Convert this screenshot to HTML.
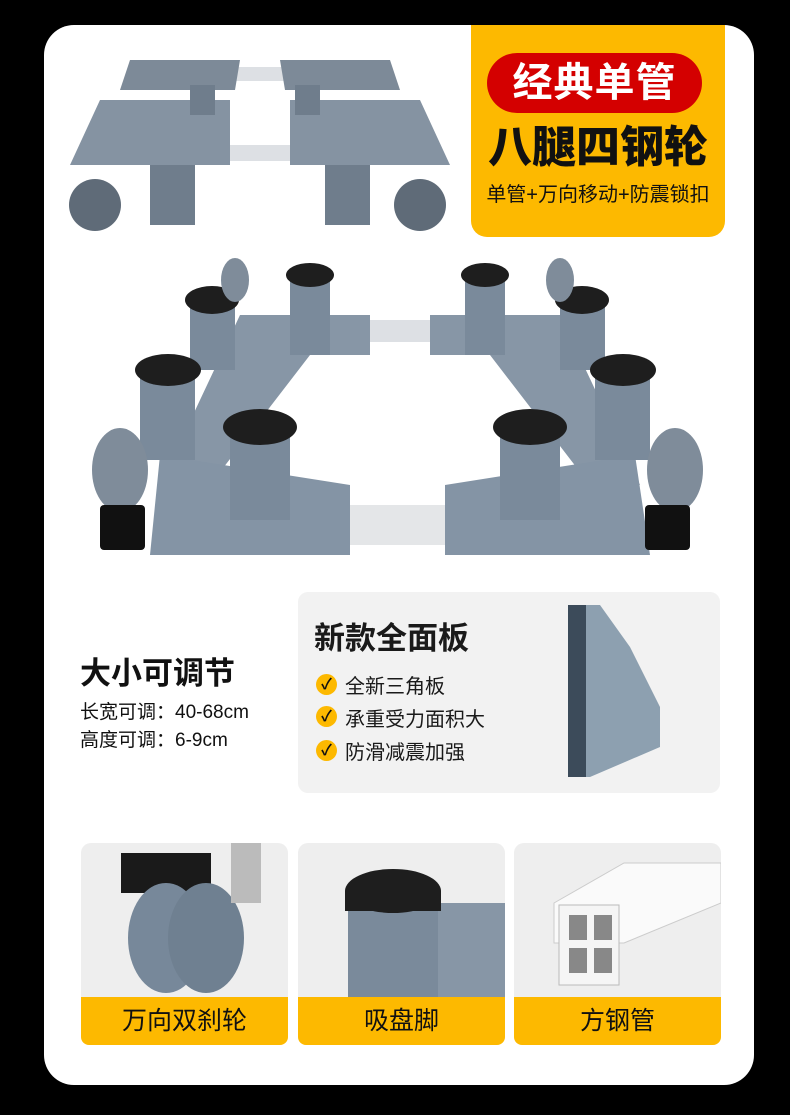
<!DOCTYPE html>
<html><head><meta charset="utf-8"><style>
*{margin:0;padding:0;box-sizing:border-box}
body{width:790px;height:1115px;background:#000;position:relative;overflow:hidden;font-family:"Liberation Sans","Noto Sans CJK SC",sans-serif}
.abs{position:absolute}
.card{left:44px;top:25px;width:710px;height:1060px;background:#fff;border-radius:30px}
.ybox{left:471px;top:25px;width:254px;height:212px;background:#FDB900;border-radius:0 0 16px 16px}
.pill{left:487px;top:53px;width:215px;height:60px;background:#D40000;border-radius:30px;color:#fff;font-size:40px;font-weight:bold;text-align:center;line-height:60px;letter-spacing:1px}
.t8{left:471px;top:120px;width:254px;text-align:center;font-size:44px;font-weight:900;color:#111;line-height:56px}
.tsub{left:471px;top:180px;width:254px;text-align:center;font-size:20px;color:#111;line-height:30px}
.gray{background:#f2f2f2;border-radius:10px}
.chk{width:21px;height:21px;border-radius:50%;background:#FDB900;color:#111;font-size:15px;font-weight:bold;text-align:center;line-height:21px}
.lbl{height:48px;background:#FDB900;color:#111;font-size:25px;text-align:center;line-height:48px;border-radius:0 0 8px 8px}
</style></head><body>
<div class="abs card"></div>
<!-- top product -->
<svg class="abs" style="left:60px;top:55px" width="400" height="190">
<rect x="70" y="12" width="260" height="14" fill="#dde0e4"/>
<rect x="160" y="90" width="80" height="16" fill="#dde0e4"/>
<polygon points="70,5 180,5 175,35 60,35" fill="#7d8a98"/>
<polygon points="220,5 330,5 340,35 225,35" fill="#7d8a98"/>
<polygon points="40,45 170,45 170,110 10,110" fill="#8593a2"/>
<polygon points="230,45 360,45 390,110 230,110" fill="#8593a2"/>
<rect x="90" y="110" width="45" height="60" fill="#6f7d8c"/>
<rect x="265" y="110" width="45" height="60" fill="#6f7d8c"/>
<circle cx="35" cy="150" r="26" fill="#5f6b78"/>
<circle cx="360" cy="150" r="26" fill="#5f6b78"/>
<rect x="130" y="30" width="25" height="30" fill="#6f7d8c"/>
<rect x="235" y="30" width="25" height="30" fill="#6f7d8c"/>
</svg>
<div class="abs ybox"></div>
<div class="abs pill">经典单管</div>
<div class="abs t8">八腿四钢轮</div>
<div class="abs tsub">单管+万向移动+防震锁扣</div>
<!-- big product -->
<svg class="abs" style="left:90px;top:255px" width="620" height="310">
<rect x="270" y="65" width="80" height="22" fill="#dde0e4"/>
<rect x="250" y="250" width="110" height="40" fill="#e4e6e8"/>
<polygon points="150,60 280,60 280,100 220,100 120,230 70,230" fill="#8796a6"/>
<polygon points="340,60 470,60 550,230 500,230 400,100 340,100" fill="#8796a6"/>
<polygon points="70,200 260,230 260,300 60,300" fill="#8494a5"/>
<polygon points="355,230 545,200 560,300 355,300" fill="#8494a5"/>
<g fill="#7a8a9b"><rect x="100" y="45" width="45" height="70"/><rect x="200" y="20" width="40" height="80"/><rect x="375" y="20" width="40" height="80"/><rect x="470" y="45" width="45" height="70"/><rect x="50" y="115" width="55" height="90"/><rect x="505" y="115" width="55" height="90"/><rect x="140" y="175" width="60" height="90"/><rect x="410" y="175" width="60" height="90"/></g>
<g fill="#1e1e1e"><ellipse cx="122" cy="45" rx="27" ry="14"/><ellipse cx="220" cy="20" rx="24" ry="12"/><ellipse cx="395" cy="20" rx="24" ry="12"/><ellipse cx="492" cy="45" rx="27" ry="14"/><ellipse cx="78" cy="115" rx="33" ry="16"/><ellipse cx="533" cy="115" rx="33" ry="16"/><ellipse cx="170" cy="172" rx="37" ry="18"/><ellipse cx="440" cy="172" rx="37" ry="18"/></g>
<g fill="#7f8c9a"><ellipse cx="30" cy="215" rx="28" ry="42"/><ellipse cx="585" cy="215" rx="28" ry="42"/><ellipse cx="145" cy="25" rx="14" ry="22"/><ellipse cx="470" cy="25" rx="14" ry="22"/></g>
<g fill="#111"><rect x="10" y="250" width="45" height="45" rx="4"/><rect x="555" y="250" width="45" height="45" rx="4"/></g>
</svg>
<!-- adjustable text -->
<div class="abs" style="left:80px;top:648px;font-size:31px;font-weight:bold;color:#111">大小可调节</div>
<div class="abs" style="left:80px;top:699px;font-size:19px;color:#111;line-height:28px">长宽可调：40-68cm<br>高度可调：6-9cm</div>
<div class="abs gray" style="left:298px;top:592px;width:422px;height:201px"></div>
<div class="abs" style="left:314px;top:613px;font-size:31px;font-weight:bold;color:#1a1a1a">新款全面板</div>
<div class="abs chk" style="left:316px;top:674px">✓</div>
<div class="abs chk" style="left:316px;top:706px">✓</div>
<div class="abs chk" style="left:316px;top:740px">✓</div>
<div class="abs" style="left:345px;top:671px;font-size:20px;color:#1a1a1a;line-height:33px">全新三角板<br>承重受力面积大<br>防滑减震加强</div>
<svg class="abs" style="left:560px;top:597px" width="110" height="185">
<polygon points="10,8 40,8 70,50 100,110 100,150 30,180 10,180" fill="#8da0b0"/>
<rect x="8" y="8" width="18" height="172" fill="#3c4b5a"/>
</svg>
<!-- bottom cards -->
<div class="abs gray" style="left:81px;top:843px;width:207px;height:202px;background:#eee"></div>
<div class="abs gray" style="left:298px;top:843px;width:207px;height:202px;background:#eee"></div>
<div class="abs gray" style="left:514px;top:843px;width:207px;height:202px;background:#eee"></div>
<svg class="abs" style="left:81px;top:843px" width="207" height="155">
<rect x="40" y="10" width="90" height="40" fill="#1a1a1a"/>
<ellipse cx="85" cy="95" rx="38" ry="55" fill="#77889a"/>
<ellipse cx="125" cy="95" rx="38" ry="55" fill="#6f8091"/>
<rect x="150" y="0" width="30" height="60" fill="#bbb"/>
</svg>
<svg class="abs" style="left:298px;top:843px" width="207" height="155">
<rect x="130" y="60" width="77" height="95" fill="#8796a6"/>
<rect x="50" y="60" width="90" height="95" fill="#7a8a9b"/>
<ellipse cx="95" cy="48" rx="48" ry="22" fill="#1e1e1e"/>
<rect x="47" y="48" width="96" height="20" fill="#1e1e1e"/>
</svg>
<svg class="abs" style="left:514px;top:843px" width="207" height="155">
<polygon points="40,60 110,20 207,20 207,60 110,100 40,100" fill="#fafafa" stroke="#ccc"/>
<rect x="45" y="62" width="60" height="80" fill="#f5f5f5" stroke="#bbb"/>
<rect x="55" y="72" width="18" height="25" fill="#888"/><rect x="80" y="72" width="18" height="25" fill="#888"/>
<rect x="55" y="105" width="18" height="25" fill="#888"/><rect x="80" y="105" width="18" height="25" fill="#888"/>
</svg>
<div class="abs lbl" style="left:81px;top:997px;width:207px">万向双刹轮</div>
<div class="abs lbl" style="left:298px;top:997px;width:207px">吸盘脚</div>
<div class="abs lbl" style="left:514px;top:997px;width:207px">方钢管</div>
</body></html>
